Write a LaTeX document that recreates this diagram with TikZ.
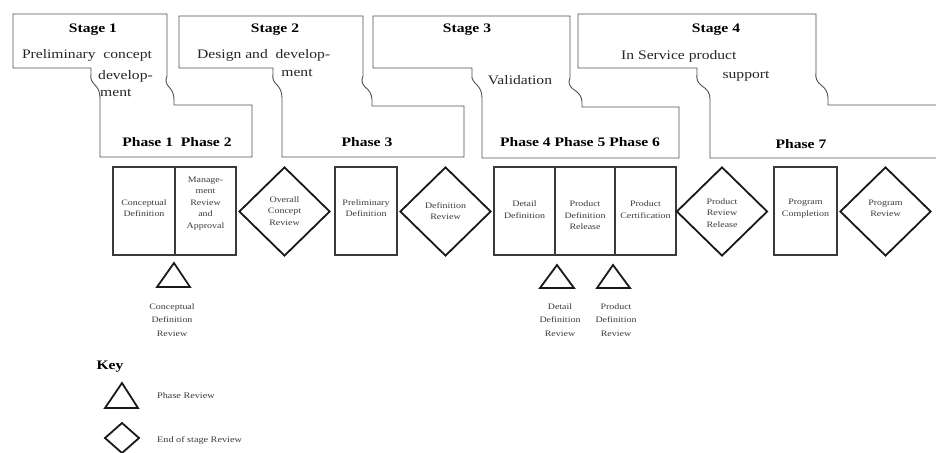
\documentclass[tikz,border=0pt]{standalone}
\usepackage{fontspec}
\setmainfont{Liberation Serif}[FakeStretch=1.2]
\usetikzlibrary{shapes.geometric}
\definecolor{outl}{HTML}{505050}
\definecolor{boxl}{HTML}{3A3A3A}
\definecolor{txtg}{HTML}{3C3C3C}
\tikzset{
  stageline/.style={draw=outl, line width=0.9pt, line join=miter},
  stagelbl/.style={inner sep=0pt, font=\bfseries\fontsize{13}{15}\selectfont},
  desc/.style={inner sep=0pt, text=black!85, font=\fontsize{13}{16}\selectfont},
  phaselbl/.style={inner sep=0pt, font=\bfseries\fontsize{13}{15}\selectfont},
  actbox/.style={draw=boxl, line width=1.8pt, rectangle, minimum height=88pt, inner sep=0pt},
  revdia/.style={draw=black!90, line width=1.8pt, diamond, minimum width=91pt, minimum height=89pt, inner sep=0pt},
  boxtxt/.style={inner sep=0pt, align=center, text=txtg, font=\fontsize{8.3}{11.5}\selectfont},
  revtxt/.style={inner sep=0pt, align=center, text=txtg, font=\fontsize{8.3}{13.5}\selectfont},
  tri/.style={draw=black!90, line width=1.8pt, line join=miter},
  keytxt/.style={inner sep=0pt, anchor=west, text=txtg, font=\fontsize{8.5}{10}\selectfont},
}
\begin{document}
\begin{tikzpicture}[x=1pt,y=-1pt]
\useasboundingbox[fill=white] (0,0) rectangle (936,452);
\begin{scope}
\clip (0,0) rectangle (936,452);
% Stage outlines
\draw[stageline] (13,14) -- (167,14) -- (167,76) .. controls (165,80) and (166,84) .. (169,87) .. controls (172,90) and (174,94) .. (174,100) -- (174,105) -- (252,105) -- (252,157) -- (100,157) -- (100,98) .. controls (100,92) and (98,88) .. (95,85) .. controls (92,82) and (90,79) .. (91,74) -- (91,68) -- (13,68) -- cycle;
\draw[stageline] (179,16) -- (363,16) -- (363,76) .. controls (361,80) and (362,84) .. (365,87) .. controls (369,90) and (372,94) .. (372,100) -- (372,106) -- (464,106) -- (464,157) -- (282,157) -- (282,98) .. controls (282,92) and (280,88) .. (277,85) .. controls (274,82) and (272,79) .. (273,74) -- (273,68) -- (179,68) -- cycle;
\draw[stageline] (373,16) -- (570,16) -- (570,78) .. controls (568,82) and (569,86) .. (573,89) .. controls (578,92) and (582,96) .. (582,102) -- (582,107) -- (679,107) -- (679,158) -- (482,158) -- (482,98) .. controls (482,92) and (480,88) .. (477,85) .. controls (474,82) and (471,79) .. (472,74) -- (472,68) -- (373,68) -- cycle;
\draw[stageline] (940,105) -- (828,105) -- (828,98) .. controls (828,92) and (825,88) .. (821,85) .. controls (817,82) and (815,78) .. (816,72) -- (816,14) -- (578,14) -- (578,68) -- (697,68) -- (697,74) .. controls (696,79) and (698,83) .. (702,86) .. controls (707,89) and (710,93) .. (710,99) -- (710,158) -- (940,158);
\end{scope}

% Stage texts
\node[stagelbl] (s1) at (93,30) {Stage 1};
\node[desc] (s1a) at (87,55) {Preliminary\ \ concept};
\node[desc, anchor=west] (s1b) at (98,76) {develop-};
\node[desc, anchor=west] (s1c) at (100,93) {ment};
\node[phaselbl] (p12) at (177,142) {Phase 1\ \ Phase 2};

\node[stagelbl] (s2) at (275,30) {Stage 2};
\node[desc, anchor=west] (s2a) at (197,55) {Design and\ \ develop-};
\node[desc] (s2b) at (297,73) {ment};
\node[phaselbl] (p3) at (367,142) {Phase 3};

\node[stagelbl] (s3) at (467,30) {Stage 3};
\node[desc] (s3a) at (520,80) {Validation};
\node[phaselbl] (p456) at (580,142) {Phase 4 Phase 5 Phase 6};

\node[stagelbl] (s4) at (716,30) {Stage 4};
\node[desc, anchor=west] (s4a) at (621,56) {In Service product};
\node[desc] (s4b) at (746,76) {support};
\node[phaselbl] (p7) at (801,144) {Phase 7};

% Activity boxes and review diamonds
\node[actbox, minimum width=62pt] (cd) at (144,211) {};
\node[actbox, minimum width=61pt] (mra) at (205.5,211) {};
\node[revdia] (ocr) at (284.5,211.5) {};
\node[actbox, minimum width=62pt] (pd) at (366,211) {};
\node[revdia] (dr) at (445.5,211.5) {};
\node[actbox, minimum width=61pt] (dd) at (524.5,211) {};
\node[actbox, minimum width=60pt] (pdr) at (585,211) {};
\node[actbox, minimum width=61pt] (pc) at (645.5,211) {};
\node[revdia] (prr) at (722,211.5) {};
\node[actbox, minimum width=63pt] (pcomp) at (805.5,211) {};
\node[revdia] (prv) at (885.5,211.5) {};

\node[boxtxt] (cdt) at (144,208) {Conceptual\\Definition};
\node[boxtxt] (mrat) at (205.5,203.5) {Manage-\\ment\\Review\\and\\Approval};
\node[boxtxt] (ocrt) at (284.5,211) {Overall\\Concept\\Review};
\node[boxtxt] (pdt) at (366,208) {Preliminary\\Definition};
\node[boxtxt] (drt) at (445.5,211) {Definition\\Review};
\node[boxtxt] (ddt) at (524.5,209.5) {Detail\\Definition};
\node[boxtxt] (pdrt) at (585,215.5) {Product\\Definition\\Release};
\node[boxtxt] (pct) at (645.5,209.5) {Product\\Certification};
\node[boxtxt] (prrt) at (722,213) {Product\\Review\\Release};
\node[boxtxt] (pcompt) at (805.5,208.5) {Program\\Completion};
\node[boxtxt] (prvt) at (885.5,208.5) {Program\\Review};

% Phase review triangles
\draw[tri] (174,263) -- (190,287) -- (157,287) -- cycle;
\draw[tri] (557,265) -- (574,288) -- (540,288) -- cycle;
\draw[tri] (613,265) -- (630,288) -- (597,288) -- cycle;
\node[revtxt] (t1t) at (172,320) {Conceptual\\Definition\\Review};
\node[revtxt] (t2t) at (560,320) {Detail\\Definition\\Review};
\node[revtxt] (t3t) at (616,320) {Product\\Definition\\Review};

% Key
\node[stagelbl] (key) at (110,367) {Key};
\draw[tri] (122,383) -- (138,408) -- (105,408) -- cycle;
\node[keytxt] (k1) at (157,396) {Phase Review};
\draw[tri] (122,423) -- (139,438) -- (122,453) -- (105,438) -- cycle;
\node[keytxt] (k2) at (157,440) {End of stage Review};
\end{tikzpicture}
\end{document}
